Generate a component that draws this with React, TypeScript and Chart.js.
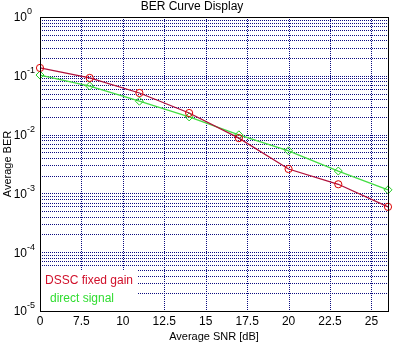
import React, { useEffect, useRef } from "react";
import { Chart, registerables } from "chart.js";

Chart.register(...registerables);

const chartTitle = "BER Curve Display";
const xTitle = "Average SNR [dB]";
const yTitle = "Average BER";

const snr = [5, 8, 11, 14, 17, 20, 23, 26];
const berDSSC = [0.136, 0.092, 0.051, 0.0233, 0.0087, 0.0026, 0.00143, 0.00059];
const berDirect = [0.103, 0.067, 0.037, 0.02, 0.0099, 0.0053, 0.0024, 0.00115];

const xTickValues = [5, 7.5, 10, 12.5, 15, 17.5, 20, 22.5, 25];
const xTickLabels = ["0", "7.5", "10", "12.5", "15", "17.5", "20", "22.5", "25"];

const yDecadeExponents = [0, -1, -2, -3, -4, -5];
const yDecadeLabels = ["0", "-1", "-2", "-3", "-4", "-5"];
const yMinorMultipliers = [1, 2, 3, 4, 5, 6, 7, 8, 9];

const legendLabels = ["DSSC fixed gain", "direct signal"];
const legendColors = ["#d0102a", "#30dd30"];

const FONT = "'Liberation Sans', Arial, sans-serif";
const GRID_COLOR = "#0c0c80";

export default function App() {
  const ref = useRef<HTMLCanvasElement>(null);

  useEffect(() => {
    document.body.style.margin = "0";
    const canvas = ref.current;
    if (!canvas) return;

    const yGridTicks: number[] = [];
    yDecadeExponents.forEach((e) => {
      yMinorMultipliers.forEach((m) => {
        const v = m * Math.pow(10, e);
        if (v <= 1.0000001) yGridTicks.push(v);
      });
    });

    const decorations = {
      id: "decorations",
      beforeDatasetsDraw(chart: any) {
        const ctx = chart.ctx;
        const a = chart.chartArea;
        const xs = chart.scales.x;
        const ys = chart.scales.y;
        ctx.save();
        ctx.strokeStyle = GRID_COLOR;
        ctx.lineWidth = 1;
        ctx.setLineDash([1, 1]);
        xs.ticks.forEach((t: any) => {
          const x = Math.round(xs.getPixelForValue(t.value)) + 0.5;
          ctx.beginPath();
          ctx.moveTo(x, a.top);
          ctx.lineTo(x, a.bottom);
          ctx.stroke();
        });
        ys.ticks.forEach((t: any) => {
          const y = Math.round(ys.getPixelForValue(t.value)) + 0.5;
          ctx.beginPath();
          ctx.moveTo(a.left, y);
          ctx.lineTo(a.right, y);
          ctx.stroke();
        });
        ctx.restore();
      },
      afterDatasetsDraw(chart: any) {
        const ctx = chart.ctx;
        const a = chart.chartArea;
        ctx.save();
        ctx.fillStyle = "#ffffff";
        ctx.fillRect(a.left + 1, a.bottom - 41, 96, 40);
        ctx.font = `12px ${FONT}`;
        ctx.textBaseline = "middle";
        ctx.textAlign = "left";
        ctx.fillStyle = legendColors[0];
        ctx.fillText(legendLabels[0], a.left + 5, a.bottom - 30);
        ctx.fillStyle = legendColors[1];
        ctx.fillText(legendLabels[1], a.left + 10, a.bottom - 12);
        ctx.restore();
      },
      afterDraw(chart: any) {
        const ctx = chart.ctx;
        const a = chart.chartArea;
        ctx.save();
        ctx.strokeStyle = "#000000";
        ctx.lineWidth = 1;
        ctx.strokeRect(Math.round(a.left) + 0.5, Math.round(a.top) + 0.5, Math.round(a.right - a.left), Math.round(a.bottom - a.top));

        ctx.fillStyle = "#000000";
        ctx.textAlign = "center";
        ctx.textBaseline = "middle";
        ctx.font = `12px ${FONT}`;
        ctx.fillText(chartTitle, 192, 7);
        ctx.font = `11px ${FONT}`;
        ctx.fillText(xTitle, (a.left + a.right) / 2, 337);
        ctx.save();
        ctx.translate(8, (a.top + a.bottom) / 2);
        ctx.rotate(-Math.PI / 2);
        ctx.fillText(yTitle, 0, 0);
        ctx.restore();

        const ys = chart.scales.y;
        yDecadeExponents.forEach((e, i) => {
          const y = ys.getPixelForValue(Math.pow(10, e));
          ctx.font = `12px ${FONT}`;
          ctx.textAlign = "right";
          ctx.textBaseline = "middle";
          ctx.fillText("10", 27, y + 1);
          ctx.font = `9px ${FONT}`;
          ctx.textAlign = "left";
          ctx.fillText(yDecadeLabels[i], 27, y - 5);
        });
        ctx.restore();
      },
    };

    const chart = new Chart(canvas, {
      type: "line",
      data: {
        datasets: [
          {
            label: legendLabels[0],
            data: snr.map((x, i) => ({ x, y: berDSSC[i] })),
            borderColor: "#b0103c",
            borderWidth: 1.3,
            pointStyle: "circle",
            pointRadius: 3.6,
            pointBorderColor: "#dd0000",
            pointBackgroundColor: "rgba(0,0,0,0)",
            pointBorderWidth: 1,
            clip: false,
          } as any,
          {
            label: legendLabels[1],
            data: snr.map((x, i) => ({ x, y: berDirect[i] })),
            borderColor: "#44dd44",
            borderWidth: 1.3,
            pointStyle: "rectRot",
            pointRadius: 4,
            pointBorderColor: "#22cc22",
            pointBackgroundColor: "rgba(0,0,0,0)",
            pointBorderWidth: 1,
            clip: false,
          } as any,
        ],
      },
      options: {
        animation: false,
        responsive: false,
        layout: { padding: { top: 17, right: 12, left: 0, bottom: 0 } },
        plugins: {
          legend: { display: false },
          title: { display: false },
          tooltip: { enabled: false },
        },
        scales: {
          x: {
            type: "linear",
            min: 5,
            max: 26,
            afterBuildTicks: (scale: any) => {
              scale.ticks = xTickValues.map((v) => ({ value: v }));
            },
            afterFit: (scale: any) => {
              scale.height = 35;
            },
            ticks: {
              autoSkip: false,
              maxRotation: 0,
              padding: 3,
              color: "#000000",
              font: { family: FONT, size: 12 },
              callback: (_v: any, i: number) => xTickLabels[i],
            },
            grid: { display: false, drawTicks: false },
            border: { display: false },
          } as any,
          y: {
            type: "logarithmic",
            min: 1e-5,
            max: 1,
            afterBuildTicks: (scale: any) => {
              scale.ticks = yGridTicks.map((v) => ({ value: v }));
            },
            afterFit: (scale: any) => {
              scale.width = 40;
            },
            ticks: { display: false, autoSkip: false },
            grid: { display: false, drawTicks: false },
            border: { display: false },
          } as any,
        },
      },
      plugins: [decorations],
    });

    return () => chart.destroy();
  }, []);

  return <canvas ref={ref} width={400} height={346} style={{ display: "block" }} />;
}
